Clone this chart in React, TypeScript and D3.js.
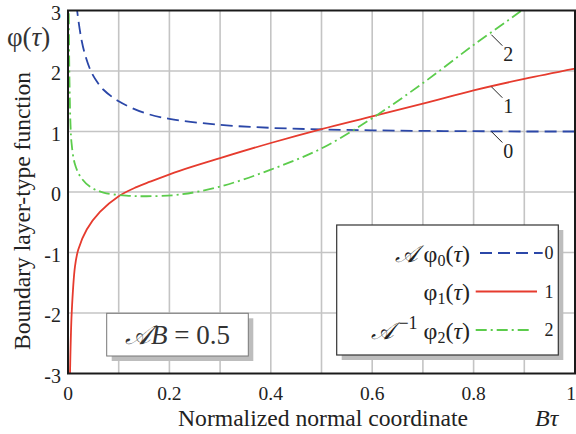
import React from 'react';
import * as d3 from 'd3';

// tick values and labels
const xTicks = [0, 0.2, 0.4, 0.6, 0.8, 1];
const xTickLabels = ['0', '0.2', '0.4', '0.6', '0.8', '1'];
const yTicks = [-3, -2, -1, 0, 1, 2, 3];
const yTickLabels = ['-3', '-2', '-1', '0', '1', '2', '3'];
const xGrid = [0.1, 0.2, 0.3, 0.4, 0.5, 0.6, 0.7, 0.8, 0.9];
const yGrid = [-2, -1, 0, 1, 2];

// curve 0 : A*phi0(tau)
const phi0X = [0.014, 0.018, 0.027, 0.035, 0.045, 0.055, 0.07, 0.1, 0.15, 0.2, 0.3, 0.4, 0.5, 0.6, 0.7, 0.8, 0.9, 1.0];
const phi0Y = [3.4, 3.0, 2.5, 2.23, 2.0, 1.85, 1.69, 1.5, 1.31, 1.21, 1.11, 1.06, 1.035, 1.02, 1.01, 1.005, 1.0, 1.0];

// curve 1 : phi1(tau)
const phi1X = [0.0032, 0.004, 0.0073, 0.0138, 0.0203, 0.037, 0.063, 0.1, 0.135, 0.162, 0.22, 0.3, 0.4, 0.5, 0.6, 0.7, 0.8, 0.9, 1.0];
const phi1Y = [-3.4, -2.99, -2.0, -1.23, -0.95, -0.62, -0.33, -0.07, 0.08, 0.17, 0.35, 0.56, 0.81, 1.04, 1.25, 1.46, 1.68, 1.87, 2.04];

// curve 2 : A^-1 phi2(tau)
const phi2X = [0.0012, 0.0015, 0.003, 0.005, 0.007, 0.013, 0.024, 0.043, 0.07, 0.115, 0.155, 0.218, 0.3, 0.4, 0.5, 0.6, 0.7, 0.8, 0.89, 0.91];
const phi2Y = [3.3, 3.0, 1.8, 1.1, 0.81, 0.48, 0.26, 0.09, -0.01, -0.06, -0.07, -0.045, 0.09, 0.37, 0.72, 1.22, 1.8, 2.43, 2.97, 3.1];

const curveIds = ['0', '1', '2'];
const colors = ['#2b47a8', '#e63b2e', '#5ccc4c'];
const dashes = ['12 6', null, '11 4 2 4'];

const W = 576;
const H = 434;
const margin = { top: 10.5, right: 1, bottom: 60.5, left: 68 };
const font = { fontFamily: "'Liberation Serif', serif" };

const App = () => {
  const iw = W - margin.left - margin.right;
  const ih = H - margin.top - margin.bottom;

  const x = d3.scaleLinear().domain([0, 1]).range([0, iw]);
  const y = d3.scaleLinear().domain([-3, 3]).range([ih, 0]);

  const line = d3
    .line<[number, number]>()
    .x((d) => x(d[0]))
    .y((d) => y(d[1]))
    .curve(d3.curveCatmullRom.alpha(0.5));

  const series = [
    d3.zip(phi0X, phi0Y) as [number, number][],
    d3.zip(phi1X, phi1Y) as [number, number][],
    d3.zip(phi2X, phi2Y) as [number, number][],
  ];

  // leader lines for curve numbers (anchored at data points)
  const leaders = [
    { at: [0.835, 1.0], label: '0' },
    { at: [0.835, 1.74], label: '1' },
    { at: [0.835, 2.6], label: '2' },
  ];

  return (
    <svg width={W} height={H} style={{ position: 'absolute', left: 0, top: 0, background: '#fff' }}>
      <defs>
        <clipPath id="plot-clip">
          <rect x={0} y={0} width={iw} height={ih} />
        </clipPath>
      </defs>
      <g transform={`translate(${margin.left},${margin.top})`}>
        {/* grid */}
        {xGrid.map((v) => (
          <line key={'gx' + v} x1={x(v)} x2={x(v)} y1={0} y2={ih} stroke="#c4c4c4" strokeWidth={1.6} />
        ))}
        {yGrid.map((v) => (
          <line key={'gy' + v} x1={0} x2={iw} y1={y(v)} y2={y(v)} stroke="#c4c4c4" strokeWidth={1.6} />
        ))}

        {/* curves */}
        <g clipPath="url(#plot-clip)">
          {series.map((s, i) => (
            <path
              key={i}
              d={line(s) || ''}
              fill="none"
              stroke={colors[i]}
              strokeWidth={1.8}
              strokeDasharray={dashes[i] || undefined}
            />
          ))}
        </g>

        {/* leader lines + curve numbers */}
        {leaders.map((l) => {
          const px = x(l.at[0]);
          const py = y(l.at[1]);
          return (
            <g key={l.label}>
              <line x1={px} y1={py} x2={px + 11} y2={py + 11} stroke="#222" strokeWidth={1} />
              <text x={px + 17} y={py + 26} fontSize={20} textAnchor="middle" fill="#222" style={font}>
                {l.label}
              </text>
            </g>
          );
        })}

        {/* frame */}
        <rect x={0} y={0} width={iw} height={ih} fill="none" stroke="#1a1a1a" strokeWidth={2} />

        {/* ticks */}
        {xTicks.map((v, i) => (
          <text
            key={'tx' + v}
            x={i === xTicks.length - 1 ? x(v) + 1 : x(v)}
            y={ih + 26}
            fontSize={19.5}
            textAnchor={i === xTicks.length - 1 ? 'end' : 'middle'}
            fill="#222"
            style={font}
          >
            {xTickLabels[i]}
          </text>
        ))}
        {yTicks.map((v, i) => (
          <text key={'ty' + v} x={-7} y={y(v) + 9} fontSize={20} textAnchor="end" fill="#222" style={font}>
            {yTickLabels[i]}
          </text>
        ))}

        {/* AB = 0.5 box */}
        <g>
          <rect x={43.7} y={307.8} width={141.6} height={42.7} fill="#bdbdbd" />
          <rect x={38.7} y={302.8} width={141.6} height={42.7} fill="#fff" stroke="#777" strokeWidth={1} />
          <text x={109.5} y={333} fontSize={27} textAnchor="middle" fill="#333" style={font}>
            <tspan fontStyle="italic">𝒜B</tspan>
            <tspan> = 0.5</tspan>
          </text>
        </g>

        {/* legend */}
        <g>
          <rect x={273.7} y={219.5} width={221.6} height={130} fill="#bdbdbd" />
          <rect x={268.7} y={214.5} width={221.6} height={130} fill="#fff" stroke="#333" strokeWidth={1.2} />
          {[0, 1, 2].map((i) => {
            const ly = 242.5 + i * 38.5;
            return (
              <g key={'lg' + i}>
                <text x={402} y={ly + 8.5} fontSize={24} textAnchor="end" fill="#222" style={font}>
                  {i === 0 && <tspan fontStyle="italic">𝒜 </tspan>}
                  {i === 2 && (
                    <>
                      <tspan fontStyle="italic">𝒜</tspan>
                      <tspan fontSize={18} dx={4} dy={-10}>−1</tspan>
                      <tspan dy={10}> </tspan>
                    </>
                  )}
                  <tspan>φ</tspan>
                  <tspan fontSize={16} dy={4}>{i}</tspan>
                  <tspan dy={-4}>(</tspan>
                  <tspan fontStyle="italic">τ</tspan>
                  <tspan>)</tspan>
                </text>
                <line
                  x1={i === 0 ? 412 : 407.7}
                  x2={i === 0 ? 474.7 : i === 1 ? 469 : 463}
                  y1={ly}
                  y2={ly}
                  stroke={colors[i]}
                  strokeWidth={2}
                  strokeDasharray={dashes[i] || undefined}
                />
                <text x={481} y={ly + 6} fontSize={18} textAnchor="middle" fill="#222" style={font}>
                  {curveIds[i]}
                </text>
              </g>
            );
          })}
        </g>
      </g>

      {/* axis titles */}
      <text x={7} y={46} fontSize={27} fill="#333" style={font}>
        <tspan>φ</tspan>
        <tspan>(</tspan>
        <tspan fontStyle="italic">τ</tspan>
        <tspan>)</tspan>
      </text>
      <text
        transform="translate(30,211) rotate(-90)"
        fontSize={24}
        textAnchor="middle"
        fill="#222"
        style={font}
        textLength={278}
        lengthAdjust="spacingAndGlyphs"
      >
        Boundary layer-type function
      </text>
      <text
        x={323}
        y={426}
        fontSize={23}
        textAnchor="middle"
        fill="#222"
        style={font}
        textLength={290}
        lengthAdjust="spacingAndGlyphs"
      >
        Normalized normal coordinate
      </text>
      <text x={535} y={426} fontSize={24} fontStyle="italic" fill="#222" style={font}>
        Bτ
      </text>
    </svg>
  );
};

export default App;
